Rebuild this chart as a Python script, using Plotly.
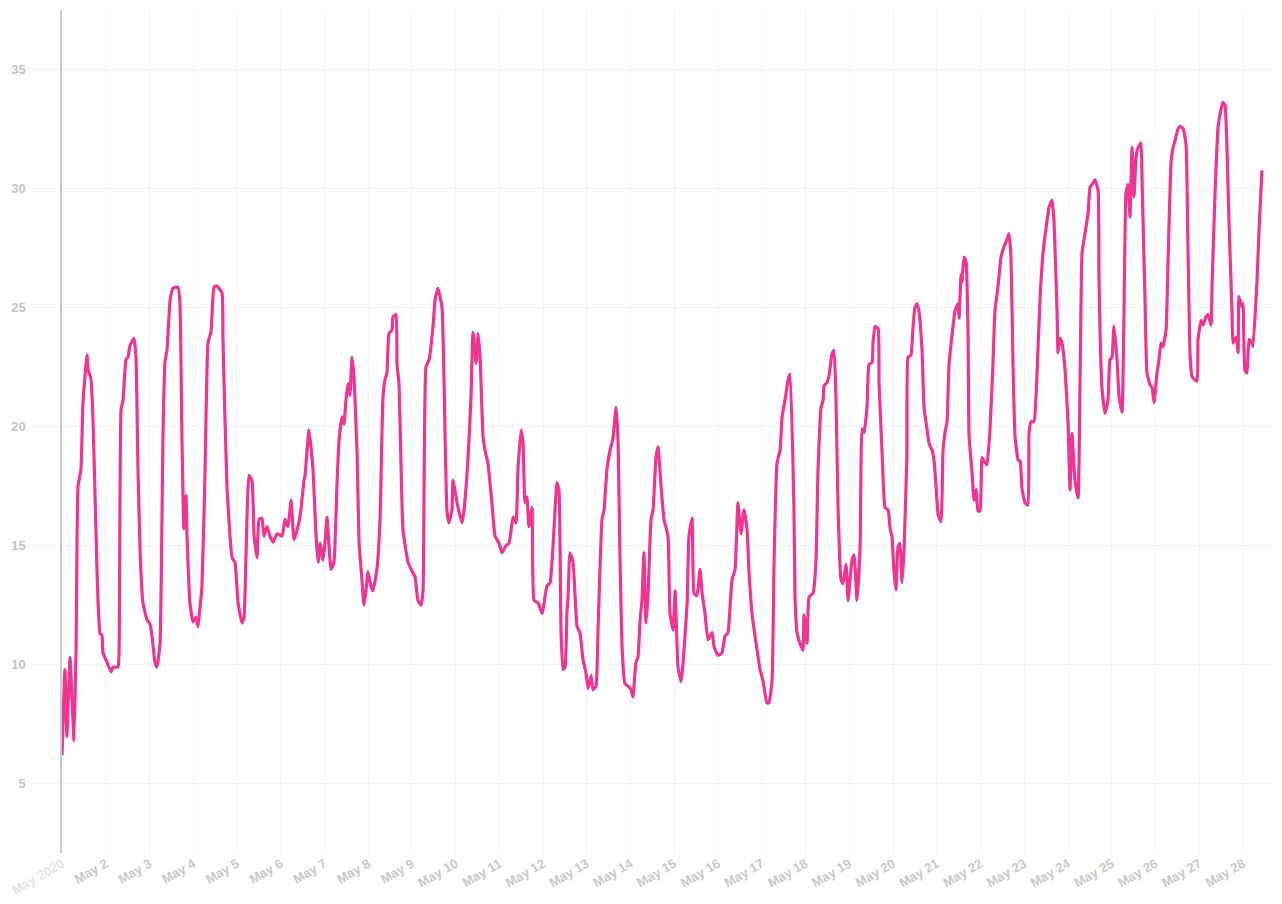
import pandas as pd
import plotly.graph_objects as go

# hours since 2020-05-01 00:00 and temperature readings
hours = [
    0, 1.6, 2.7, 4.4, 6.6, 7.7, 8.8, 10.4, 11.5, 13.7, 14.3, 15.9, 17.0, 19.2, 19.8, 20.9, 21.9, 22.5,
    24.7, 26.9, 28.0, 30.7, 31.3, 32.4, 33.5, 35.1, 36.2, 37.3, 39.5, 40.6, 41.7, 42.8, 44.4, 46.6,
    48.3, 49.4, 51.0, 52.1, 53.8, 55.4, 56.5, 57.6, 59.3, 60.9, 63.6, 64.7, 65.8, 66.9, 68.0, 68.6,
    70.2, 71.9, 73.5, 74.6, 75.2, 76.8, 78.5, 80.1, 81.8, 83.4, 85.0, 87.8, 88.3, 90.5, 93.3, 94.9,
    96.6, 98.8, 99.9, 101.0, 102.6, 104.3, 105.4, 107.0, 108.1, 109.7, 110.8, 112.5, 114.1, 115.8,
    118.0, 120.7, 122.4, 124.0, 125.7, 127.3, 129.5, 131.1, 132.8,
    133.3, 135.5, 137.7, 139.4, 140.5, 141.6, 143.2, 144.3, 145.4, 147.6, 149.2, 150.9, 152.0, 153.6,
    154.7, 155.8, 156.9, 158.0, 159.1, 160.2, 161.9, 163.0, 164.6, 165.7, 166.8, 167.9, 169.5, 170.6,
    172.8, 174.5, 176.1, 177.2, 178.3, 179.4, 181.1, 181.6, 183.3, 183.8, 184.9, 187.1, 189.9, 192.6,
    193.7, 195.3, 197.0, 198.1, 199.7, 201.4, 203.6, 204.7, 206.3, 208.5, 209.6, 211.2, 212.3, 214.0,
    214.5, 216.2, 217.3, 219.5, 220.6, 222.8, 224.4, 225.5, 227.2, 228.3, 229.4, 231.0, 232.1, 233.7,
    235.9, 237.6, 239.8, 241.4, 243.6, 245.3, 247.5, 249.1, 250.2, 251.9, 253.0, 254.0, 255.1, 256.2,
    257.9, 259.0, 261.2, 263.4, 266.1,
    267.8, 269.4, 271.6, 272.7, 273.8, 274.9, 276.0, 277.1, 277.6, 278.7, 280.4, 282.6, 284.2, 285.9,
    287.5, 288.6, 290.3, 291.4, 293.0, 294.1, 296.3, 297.4, 299.0, 300.7, 302.3, 304.0, 305.1, 306.2,
    307.3, 308.9, 310.6, 312.2, 313.3, 314.9, 316.0, 317.1, 318.2, 319.3, 320.4, 321.5, 323.2, 324.3,
    325.9, 327.0, 328.7, 330.3, 332.5, 333.6, 335.3, 336.4, 338.0, 339.7, 340.8, 343.0, 344.0, 345.7,
    346.8, 348.4, 350.1, 351.2, 352.8, 354.5, 356.7, 357.8, 360.0, 362.1, 363.8, 365.4, 367.6, 369.3,
    370.9, 372.6, 374.2, 375.9, 377.0, 378.6, 381.4, 383.0, 384.6, 386.8, 387.9, 389.6, 390.7, 392.3,
    394.0, 395.1, 396.7, 398.4, 399.5,
    401.6, 402.2, 403.3, 404.9, 406.6, 407.1, 408.8, 409.9, 412.1, 413.7, 414.8, 416.5, 417.6, 418.1,
    419.8, 420.9, 422.5, 423.6, 424.7, 425.8, 427.4, 428.5, 430.2, 431.3, 433.5, 434.6, 436.2, 437.9,
    439.0, 440.1, 441.7, 442.8, 444.5, 445.0, 446.1, 447.8, 448.3, 450.0, 451.6, 453.3, 454.4, 455.4,
    456.5, 457.6, 458.7, 459.8, 460.9, 462.0, 463.6, 464.2, 465.8, 466.9, 468.0, 469.1, 470.2, 471.9,
    473.0, 474.6, 475.7, 477.4, 478.5, 479.6, 480.7, 482.3, 483.4, 484.5, 485.6, 486.7, 488.3, 490.0,
    491.6, 492.2, 493.3, 493.8, 494.9, 496.0, 497.1, 497.7, 499.3, 500.4, 501.5, 502.6, 503.7, 504.8,
    505.9, 507.5, 509.2, 510.8, 511.9, 513.6, 515.2, 516.9, 518.5, 519.6, 520.7, 521.8, 522.9, 524.6,
    525.7, 526.8,
    528.4, 530.0, 530.6, 531.7, 533.3, 535.0, 536.6, 538.3, 540.5, 541.6, 543.2, 544.3, 546.0, 546.5,
    547.6, 548.7, 550.4, 552.0, 553.1, 554.2, 555.8, 557.5, 558.6, 559.7, 561.3, 563.0, 564.1, 565.2,
    566.8, 568.5, 569.0, 570.6, 572.3, 573.9, 575.0, 576.1, 577.2, 578.9, 580.0, 581.6, 582.7, 583.8,
    584.9, 586.0, 587.1, 588.2, 589.3, 590.4, 592.0, 592.6, 594.2, 595.3, 597.0, 598.1, 599.2, 600.8,
    601.9, 603.0, 604.1, 605.8, 606.9, 608.5, 609.6, 610.7, 612.4, 613.4, 615.1, 616.7, 617.8, 618.9,
    620.0, 622.8, 623.3, 625.0, 626.1, 627.7, 628.8, 630.5, 631.0, 632.6, 634.3, 635.9, 637.0, 638.1,
    639.2, 640.3, 642.0, 642.5, 644.2, 645.3, 645.8, 647.5, 648.0, 649.1, 650.2, 651.3, 652.9, 653.5,
    655.7, 656.8, 658.4,
]

temps = [
    6.2, 9.8, 7.0, 10.3, 6.8, 10.6, 17.5, 18.2, 21.0, 23.0, 22.4, 22.0, 20.3, 14.0, 12.6, 11.3, 11.25, 10.5,
    10.1, 9.7, 9.9, 9.9, 10.5, 20.7, 21.1, 22.8, 22.9, 23.4, 23.7, 22.9, 18.2, 14.9, 12.6, 11.9,
    11.7, 11.2, 10.1, 9.9, 10.9, 19.6, 22.7, 23.2, 25.3, 25.8, 25.85, 25.2, 19.6, 15.7, 17.1, 15.4,
    12.6, 11.8, 12.0, 11.6, 12.0, 13.3, 18.2, 23.5, 24.0, 25.85, 25.9, 25.6, 23.75, 17.5, 14.5, 14.3,
    12.6, 11.75, 12.0, 14.7, 17.95, 17.7, 15.4, 14.5, 16.1, 16.15, 15.4, 15.8, 15.4, 15.15,
    15.5, 15.4, 16.1, 15.8, 16.9, 15.25, 15.8, 16.5, 17.75,
    17.9, 19.85, 18.2, 15.4, 14.3, 15.1, 14.4, 15.1, 16.2, 14.0, 14.3, 17.6, 19.4, 20.4,
    20.1, 21.1, 21.8, 21.3, 22.9, 22.1, 18.9, 15.1, 13.55, 12.5, 13.1, 13.9, 13.3, 13.1,
    14.0, 16.1, 21.2, 21.95, 22.25, 23.9, 24.05, 24.6, 24.7, 22.65, 21.8, 15.65, 14.3, 13.85,
    13.7, 12.7, 12.5, 13.1, 22.5, 22.8, 24.2, 25.3, 25.8, 25.0, 21.95, 16.5, 15.95, 16.5,
    17.75, 17.05, 16.6, 15.95, 16.5, 18.7, 21.2, 23.95, 22.65, 23.9, 22.9, 19.6, 19.0, 18.45,
    16.8, 15.4, 15.1, 14.7, 15.0, 15.1, 16.2, 15.95, 18.2, 19.85, 19.3, 16.8, 17.05, 15.8,
    16.6, 12.7, 12.6, 12.15, 13.3,
    13.45, 14.95, 17.65, 17.3, 11.45, 9.8, 9.9, 12.3, 12.7, 14.7, 14.3, 11.6, 11.35, 10.2,
    9.65, 9.0, 9.55, 8.95, 9.1, 11.45, 16.1, 16.5, 18.2, 19.0, 19.5, 20.8, 19.4, 14.3,
    10.75, 9.2, 9.1, 8.95, 8.65, 10.1, 10.3, 11.75, 12.7, 14.7, 11.75, 12.85, 16.1, 16.5,
    18.7, 19.15, 17.5, 16.1, 15.4, 12.15, 11.45, 13.1, 9.9, 9.3, 10.1, 12.6, 15.4, 16.15,
    13.0, 12.9, 14.0, 13.0, 12.15, 11.05, 11.35, 10.75, 10.4, 10.5, 11.2, 11.35, 13.55, 14.0,
    16.8, 15.5, 16.5, 15.65, 13.85, 12.15, 10.6, 9.8, 9.35, 8.4, 8.4, 9.35, 14.3, 18.45,
    19.0, 20.4, 21.1, 21.95, 22.2,
    16.6, 12.85, 11.35, 10.9, 10.6, 12.1, 10.9, 12.85, 13.0, 14.35, 18.1, 20.8, 21.1, 21.7,
    21.85, 22.15, 23.05, 23.2, 21.1, 16.6, 13.6, 13.4, 14.2, 12.7, 14.4, 14.6, 12.7, 14.95,
    19.9, 19.75, 20.8, 22.6, 22.7, 23.5, 24.2, 24.1, 21.85, 18.85, 16.6, 16.5, 15.7, 15.4,
    13.9, 13.15, 14.95, 15.1, 13.45, 14.8, 18.85, 22.9, 23.0, 24.1, 25.0, 25.15, 24.85, 23.2,
    20.8, 19.9, 19.3, 19.0, 18.55, 17.5, 16.3, 16.0, 19.0, 19.75, 20.2, 22.6, 23.8, 24.85,
    25.15, 24.55, 26.35, 26.05, 27.1, 26.95, 24.1, 19.6, 18.1, 16.9, 17.35, 16.45, 16.45, 18.7,
    18.55, 18.4, 19.9, 22.6, 24.85, 25.9, 27.1, 27.55, 27.85, 28.1, 27.1, 22.6, 19.6, 18.6,
    18.55, 17.35,
    16.8, 16.7, 19.7, 20.2, 20.2, 22.25, 25.3, 27.3, 28.65, 29.2, 29.5, 28.65, 24.75, 23.1,
    23.7, 23.5, 22.35, 20.15, 17.35, 19.7, 17.75, 17.0, 21.95, 27.3, 28.1, 28.95, 30.05, 30.15,
    30.35, 29.9, 26.15, 21.65, 20.55, 21.1, 22.8, 22.9, 24.2, 22.8, 21.25, 20.6, 24.75, 29.8,
    30.15, 28.8, 31.7, 29.65, 31.3, 31.7, 31.9, 30.35, 25.45, 22.25, 21.75, 21.65, 21.0, 22.25,
    22.8, 23.5, 23.35, 24.05, 27.0, 31.05, 31.7, 32.0, 32.5, 32.6, 32.5, 31.9, 27.55, 23.1,
    22.1, 21.9, 23.65, 24.45, 24.25, 24.6, 24.7, 24.25, 25.85, 29.65, 32.55, 33.3, 33.6, 33.5,
    31.7, 28.65, 24.75, 23.5, 23.75, 23.1, 25.45, 25.0, 25.15, 22.35, 22.25, 23.65, 23.5, 23.35,
    26.15, 28.25, 30.75,
]

tick_days = list(range(1, 29))
tick_labels = ["<span style='color:#e4e4e4'>May 2020</span>"] + [f"May {d}" for d in range(2, 29)]
y_ticks = [5, 10, 15, 20, 25, 30, 35]

start = pd.Timestamp("2020-05-01 00:00")
times = [start + pd.Timedelta(hours=h) for h in hours]
tick_vals = [pd.Timestamp(2020, 5, d) for d in tick_days]

fig = go.Figure(
    go.Scatter(
        x=times, y=temps, mode="lines",
        line=dict(color="#EF3591", width=3.2, shape="spline", smoothing=0.4),
        hoverinfo="x+y",
    )
)

grid = "#f3f3f3"
# the page body has an 8px default margin, so the figure is offset by 8px
fig.update_layout(
    width=1274, height=896,
    margin=dict(l=54, r=0, t=2, b=51),
    paper_bgcolor="white", plot_bgcolor="white",
    showlegend=False,
    font=dict(family="Liberation Sans, Arial, sans-serif"),
)
fig.update_xaxes(
    type="date",
    range=[start, start + pd.Timedelta(hours=669.4)],
    tickmode="array", tickvals=tick_vals, ticktext=tick_labels,
    tickangle=-30,
    tickfont=dict(size=13, color="#c9c9c9", weight="bold"),
    showgrid=True, gridcolor=grid, gridwidth=1,
    zeroline=False, showline=False, ticks="",
)
fig.update_yaxes(
    range=[2.1, 37.48],
    tickmode="array", tickvals=y_ticks,
    tickfont=dict(size=13, color="#c4c4c4", weight="bold"),
    showgrid=True, gridcolor=grid, gridwidth=1,
    zeroline=False,
    showline=True, linecolor="#cccccc", linewidth=1.5,
    ticks="outside", ticklen=32, tickcolor=grid, tickwidth=1,
)

fig.write_html("out.html")
